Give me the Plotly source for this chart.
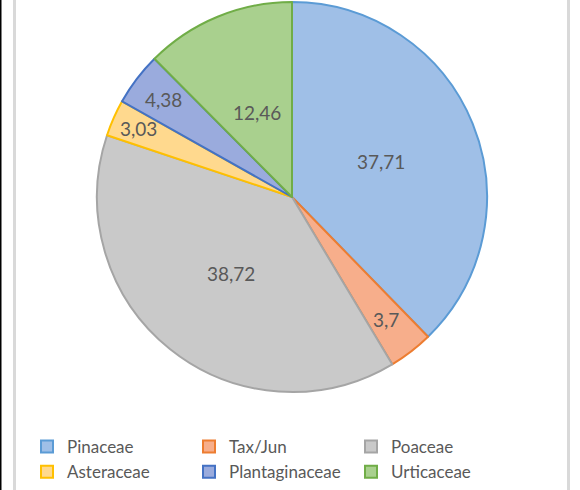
import math
import plotly.graph_objects as go

labels = ["Pinaceae", "Tax/Jun", "Poaceae", "Asteraceae", "Plantaginaceae", "Urticaceae"]
values = [37.71, 3.7, 38.72, 3.03, 4.38, 12.46]
fill_colors = ["#9FBFE7", "#F7AE8B", "#C9C9C9", "#FFD98E", "#9AABDD", "#A9D08E"]
line_colors = ["#5B9BD5", "#ED7D31", "#A5A5A5", "#FFC000", "#4472C4", "#70AD47"]
label_radius = [0.49, 0.79, 0.50, 0.86, 0.83, 0.47]

W, H = 580, 490
dom_x = [97 / W, 487 / W]
dom_y = [1 - 392 / H, 1 - 2 / H]

fig = go.Figure()
fig.add_trace(go.Pie(
    labels=labels,
    values=values,
    sort=False,
    direction="clockwise",
    rotation=0,
    textinfo="none",
    hoverinfo="label+value",
    marker=dict(colors=fill_colors, line=dict(color=line_colors, width=2)),
    domain=dict(x=dom_x, y=dom_y),
))

# data labels positioned from cumulative angles
cx = (dom_x[0] + dom_x[1]) / 2 * W
cy = (1 - (dom_y[0] + dom_y[1]) / 2) * H
R = min((dom_x[1] - dom_x[0]) * W, (dom_y[1] - dom_y[0]) * H) / 2
total = sum(values)
cum = 0.0
annotations = []
for v, f in zip(values, label_radius):
    mid = (cum + v / 2) / total * 2 * math.pi
    cum += v
    px = cx + f * R * math.sin(mid)
    py = cy - f * R * math.cos(mid)
    annotations.append(dict(
        x=px / W, y=1 - py / H, xref="paper", yref="paper",
        text=f"{v:g}".replace(".", ","), showarrow=False,
        font=dict(size=19, color="#595959", family="Lato"),
        xanchor="center", yanchor="middle",
    ))

shapes = [
    dict(type="line", xref="paper", yref="paper", x0=0.5 / W, x1=0.5 / W, y0=0, y1=1,
         line=dict(color="#000000", width=2)),
    dict(type="line", xref="paper", yref="paper", x0=14.5 / W, x1=14.5 / W, y0=0, y1=1,
         line=dict(color="#D9D9D9", width=3)),
    dict(type="line", xref="paper", yref="paper", x0=568.5 / W, x1=568.5 / W, y0=0, y1=1,
         line=dict(color="#D9D9D9", width=3)),
]

fig.update_layout(
    width=W, height=H,
    autosize=False,
    margin=dict(l=0, r=0, t=0, b=0),
    paper_bgcolor="white",
    plot_bgcolor="white",
    font=dict(family="Lato", color="#595959"),
    showlegend=True,
    legend=dict(
        orientation="h",
        x=27 / W, xanchor="left",
        y=0, yanchor="bottom",
        font=dict(size=17, color="#595959", family="Lato"),
        entrywidth=117,
        itemwidth=30,
        traceorder="normal",
        bgcolor="rgba(0,0,0,0)",
    ),
    annotations=annotations,
    shapes=shapes,
)

fig.write_html(
    "out.html",
    config={"displayModeBar": False, "responsive": False},
    post_script="document.body.style.margin='0';document.body.style.overflow='hidden';",
)
